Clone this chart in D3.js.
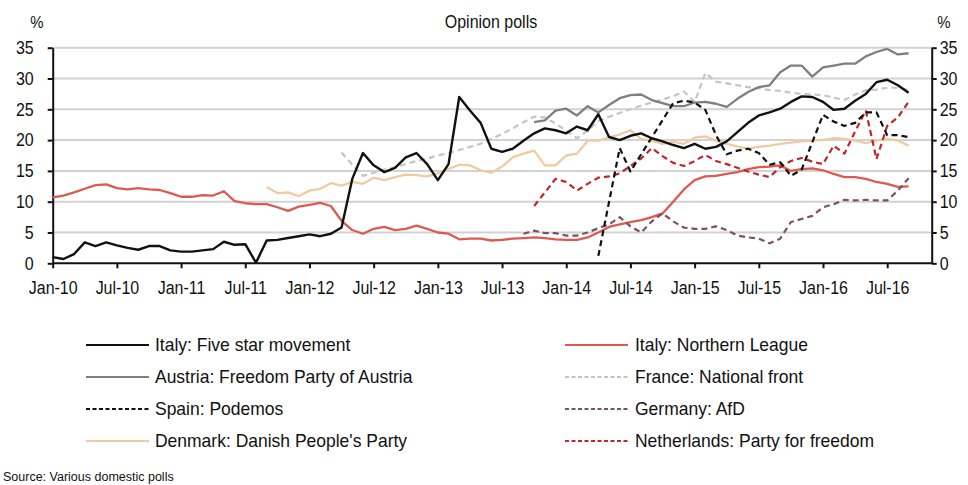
<!DOCTYPE html>
<html><head><meta charset="utf-8">
<script src="https://cdn.jsdelivr.net/npm/d3@7"></script>
<style>
body{margin:0;background:#fff}
svg{display:block}
text{font-family:"Liberation Sans",Arial,sans-serif;fill:#111}
</style>
</head><body>
<svg id="chart" width="968" height="485"></svg>
<script>
// ---------- DATA ----------
const firstMonth = "2010-01";
const lastMonth = "2016-09";
const tickLabels = ["Jan-10","Jul-10","Jan-11","Jul-11","Jan-12","Jul-12","Jan-13","Jul-13","Jan-14","Jul-14","Jan-15","Jul-15","Jan-16","Jul-16"];
const yTicks = [0,5,10,15,20,25,30,35];

const italyFiveStarStart = "2010-01";
const italyFiveStar = [1.0,0.7,1.5,3.4,2.8,3.4,2.9,2.5,2.2,2.8,
 2.8,2.1,1.9,1.9,2.1,2.3,3.5,3.0,3.1,0.1,
 3.7,3.8,4.1,4.4,4.7,4.4,4.8,5.8,13.7,17.9,
 15.9,14.8,15.5,17.2,17.9,16.1,13.5,16.1,27.0,24.8,
 22.8,18.6,18.1,18.6,19.9,21.1,21.9,21.6,21.1,22.2,
 21.6,24.2,20.5,20.0,20.7,21.1,20.3,19.8,19.2,18.7,
 19.4,18.6,18.9,19.8,21.3,22.8,24.0,24.5,25.1,26.2,
 27.1,27.0,26.2,24.9,25.1,26.4,27.5,29.4,29.8,28.9,27.7];

const italyLeagueStart = "2010-01";
const italyLeague = [10.7,11.0,11.5,12.1,12.7,12.8,12.2,12.0,12.2,12.0,
 11.9,11.4,10.8,10.8,11.05,11.0,11.7,10.1,9.75,9.6,
 9.6,9.1,8.5,9.2,9.5,9.8,9.3,6.9,5.4,4.8,
 5.6,5.9,5.4,5.6,6.1,5.6,5.0,4.8,3.9,4.0,
 4.0,3.7,3.8,4.0,4.1,4.2,4.1,3.9,3.8,3.8,
 4.2,5.0,5.9,6.3,6.7,7.0,7.5,8.1,10.0,12.0,
 13.5,14.1,14.2,14.5,14.8,15.3,15.6,15.7,15.9,15.0,
 15.3,15.4,15.1,14.5,14.0,14.0,13.7,13.2,12.9,12.4,12.5];

const austriaStart = "2013-10";
const austria = [22.9,23.2,24.8,25.1,24.0,25.5,24.5,25.7,26.8,27.3,
 27.4,26.5,26.0,25.5,25.5,26.1,26.2,25.9,25.4,26.7,
 27.8,28.6,28.9,31.0,32.1,32.1,30.3,31.8,32.1,32.4,
 32.4,33.6,34.3,34.8,33.9,34.1];

const franceStart = "2012-04";
const france = [18.0,16.0,14.2,14.7,15.2,15.6,16.1,16.6,17.0,17.5,
 17.9,18.4,18.9,19.4,20.2,21.0,21.9,22.9,23.8,23.7,
 22.7,21.5,20.3,21.5,23.1,23.8,24.4,25.0,25.6,26.1,
 26.6,27.1,27.9,26.2,30.9,29.5,29.2,28.9,28.6,28.4,
 28.1,28.0,27.7,27.5,27.4,27.3,26.9,26.5,27.4,28.1,
 28.2,28.5,28.5,28.1];

const spainStart = "2014-04";
const spain = [1.2,null,18.7,14.9,null,null,null,26.0,26.4,26.1,
 24.9,20.8,17.7,18.3,18.6,17.9,16.0,16.4,14.2,15.2,
 null,24.1,23.0,22.3,22.8,24.5,24.5,20.8,20.8,20.5];

const germanyStart = "2013-09";
const germany = [4.8,5.3,4.9,4.9,4.5,4.5,5.0,5.7,6.3,7.5,
 6.0,5.0,6.8,8.1,6.8,5.8,5.6,5.6,6.0,5.4,
 4.5,4.2,4.0,3.25,4.0,6.7,7.2,7.7,9.1,9.6,
 10.3,10.2,10.3,10.2,10.2,11.8,13.8];

const denmarkStart = "2011-09";
const denmark = [12.4,11.4,11.5,10.9,11.8,12.1,13.0,12.6,13.2,12.9,
 13.9,13.5,14.0,14.4,14.3,14.1,14.6,15.3,16.0,15.9,
 15.1,14.7,15.7,17.2,17.8,18.3,15.9,15.9,17.5,17.8,
 19.9,19.9,20.5,20.9,21.6,20.2,19.9,19.4,19.7,19.4,
 20.4,20.6,19.9,19.4,19.0,18.6,18.9,19.1,19.4,19.6,
 19.8,19.9,20.0,20.3,20.2,19.9,19.5,19.9,20.2,19.9,19.1];

const netherlandsStart = "2013-10";
const netherlands = [9.3,11.5,13.7,13.2,11.8,12.9,13.9,14.1,14.6,15.8,
 17.0,18.7,17.4,16.3,15.8,16.6,17.6,16.6,16.1,15.5,
 14.9,14.4,14.0,15.6,16.6,17.1,16.5,16.1,19.1,17.8,
 21.4,24.8,16.9,22.3,23.7,26.2];

// ---------- SERIES / STYLE ----------
const series = [
  {name:"Denmark: Danish People's Party", start:denmarkStart, values:denmark, color:"#efcba3", width:2.3, dash:null},
  {name:"France: National front", start:franceStart, values:france, color:"#c4c4c4", width:2.2, dash:"6,4"},
  {name:"Austria: Freedom Party of Austria", start:austriaStart, values:austria, color:"#7f7f7f", width:2.3, dash:null},
  {name:"Italy: Northern League", start:italyLeagueStart, values:italyLeague, color:"#dc5a50", width:2.3, dash:null},
  {name:"Germany: AfD", start:germanyStart, values:germany, color:"#7a5360", width:2.2, dash:"6,4"},
  {name:"Netherlands: Party for freedom", start:netherlandsStart, values:netherlands, color:"#c0272d", width:2.2, dash:"6,4"},
  {name:"Spain: Podemos", start:spainStart, values:spain, color:"#111111", width:2.2, dash:"6,4"},
  {name:"Italy: Five star movement", start:italyFiveStarStart, values:italyFiveStar, color:"#111111", width:2.4, dash:null}
];
const legendLeft = ["Italy: Five star movement","Austria: Freedom Party of Austria","Spain: Podemos","Denmark: Danish People's Party"];
const legendRight = ["Italy: Northern League","France: National front","Germany: AfD","Netherlands: Party for freedom"];

// ---------- CHART ----------
(function () {
const parseMonth = d3.timeParse("%Y-%m");
const t0 = parseMonth(firstMonth);
const monthIndex = s => d3.timeMonth.count(t0, parseMonth(s));

const svg = d3.select("#chart");
const plotL = 52.7, plotR = 931.7, plotT = 47.7, plotB = 263.3;

const x = d3.scaleLinear().domain([0, monthIndex(lastMonth) + 2.16]).range([plotL, plotR]);
const y = d3.scaleLinear().domain([0, 35]).range([plotB, plotT]);

// vertical stretch of glyphs about their anchor point (reference text is tall/condensed)
function stretch(sel, sy) {
  sel.each(function () {
    const t = d3.select(this);
    const tx = +t.attr("x") || 0, ty = +t.attr("y") || 0;
    t.attr("transform", `translate(${tx},${ty}) scale(1,${sy}) translate(${-tx},${-ty})`);
  });
}

// grid
svg.append("g").selectAll("line").data(yTicks.filter(v => v > 0)).join("line")
  .attr("x1", plotL).attr("x2", plotR)
  .attr("y1", d => y(d)).attr("y2", d => y(d))
  .attr("stroke", "#d2d2d2").attr("stroke-width", 2);

// axes
const tickMonths = tickLabels.map((_, i) => i * 6);
const xAxis = d3.axisBottom(x).tickValues(tickMonths).tickFormat((d, i) => tickLabels[i]).tickSize(5).tickSizeOuter(0).tickPadding(13);
const gx = svg.append("g").attr("transform", `translate(0,${plotB})`).call(xAxis);
const yAxisL = d3.axisLeft(y).tickValues(yTicks).tickSize(5).tickSizeOuter(0).tickPadding(14);
const gyl = svg.append("g").attr("transform", `translate(${plotL},0)`).call(yAxisL);
const yAxisR = d3.axisRight(y).tickValues(yTicks).tickSize(5).tickSizeOuter(0).tickPadding(3);
const gyr = svg.append("g").attr("transform", `translate(${plotR},0)`).call(yAxisR);
[gx, gyl, gyr].forEach(g => {
  g.select(".domain").attr("stroke", "#111").attr("stroke-width", 2);
  g.selectAll(".tick line").attr("stroke", "#111").attr("stroke-width", 2);
  g.selectAll(".tick text").attr("fill", "#111").style("font-size", "16px").style("font-family", '"Liberation Sans",Arial,sans-serif');
  stretch(g.selectAll(".tick text"), 1.12);
});
gx.select(".domain").attr("d", `M${plotL},0H${plotR}`);

// lines
const line = d3.line().x(d => x(d.m)).y(d => y(d.v));
series.forEach(s => {
  const s0 = monthIndex(s.start);
  const pts = s.values.map((v, i) => ({m: s0 + i, v})).filter(d => d.v != null);
  svg.append("path").datum(pts)
    .attr("fill", "none").attr("stroke", s.color).attr("stroke-width", s.width)
    .attr("stroke-linejoin", "round")
    .attr("stroke-dasharray", s.dash)
    .attr("d", line);
});

// titles
stretch(svg.append("text").attr("x", 491).attr("y", 28).attr("text-anchor", "middle").style("font-size", "16px").text("Opinion polls"), 1.1);
stretch(svg.append("text").attr("x", 37).attr("y", 28).attr("text-anchor", "middle").style("font-size", "15px").text("%"), 1.1);
stretch(svg.append("text").attr("x", 944).attr("y", 28).attr("text-anchor", "middle").style("font-size", "15px").text("%"), 1.1);

// legend
const byName = Object.fromEntries(series.map(s => [s.name, s]));
const rowY = [345, 377, 409, 441];
function legendCol(names, x1, x2, tx) {
  names.forEach((n, i) => {
    const s = byName[n];
    svg.append("line").attr("x1", x1).attr("x2", x2).attr("y1", rowY[i]).attr("y2", rowY[i])
      .attr("stroke", s.color).attr("stroke-width", 2.2).attr("stroke-dasharray", s.dash ? "4,2.5" : null);
    stretch(svg.append("text").attr("x", tx).attr("y", rowY[i] + 6).style("font-size", "17.5px").text(n), 1.06);
  });
}
legendCol(legendLeft, 86, 149, 155);
legendCol(legendRight, 565, 628, 635);

svg.append("text").attr("x", 3).attr("y", 481).style("font-size", "12.5px").text("Source: Various domestic polls");
})();
</script>
</body></html>
